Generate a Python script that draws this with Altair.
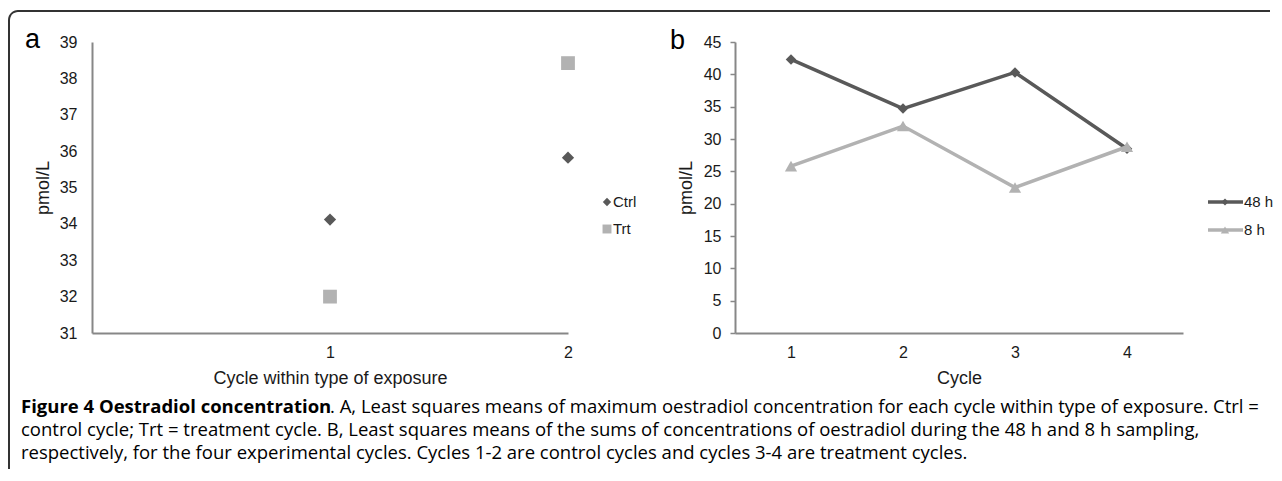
import altair as alt
import pandas as pd

# ---------------- data ----------------
cycle_a = [1, 2]
series_a = ["Ctrl", "Trt"]
ctrl_vals = [34.12, 35.82]
trt_vals = [32.0, 38.42]

cycle_b = [1, 2, 3, 4]
series_b = ["48 h", "8 h"]
h48_vals = [42.3, 34.7, 40.3, 28.5]
h8_vals = [25.8, 32.0, 22.5, 28.8]

yticks_a = [31, 32, 33, 34, 35, 36, 37, 38, 39]
yticks_b = [0, 5, 10, 15, 20, 25, 30, 35, 40, 45]
xticks_a = [1, 2]

caption_bold = "Figure 4 Oestradiol concentration"
caption_line1 = (". A, Least squares means of maximum oestradiol concentration for each cycle "
                 "within type of exposure. Ctrl =")
caption_rest = [
    "control cycle; Trt = treatment cycle. B, Least squares means of the sums of concentrations "
    "of oestradiol during the 48 h and 8 h sampling,",
    "respectively, for the four experimental cycles. Cycles 1-2 are control cycles and cycles 3-4 "
    "are treatment cycles.",
]

# ---------------- styles ----------------
DARK = "#595959"
LIGHT = "#b2b2b2"
AX = "#878787"
TXT = "#1a1a1a"
BORDER = "#333333"
FONT = "Liberation Sans"
CAPFONT = "Open Sans"
CAPSIZE = 18.5
WA, WB, H = 476, 448, 291
SP = 167


def one():
    return alt.Data(values=[{}])


def yaxis(vals, tick):
    return alt.Axis(
        values=vals, title="pmol/L", grid=False, ticks=tick, tickSize=5 if tick else 0,
        tickColor=AX, tickWidth=1.5, domainColor=AX, domainWidth=2,
        labelFont=FONT, labelFontSize=16, labelColor=TXT, labelPadding=9 if tick else 15,
        titleFont=FONT, titleFontSize=18, titleFontWeight="normal", titleColor=TXT,
        titleX=-49, titleY=H / 2, titleAngle=270, titleAlign="center", titleBaseline="middle",
        zindex=1,
    )


def xaxis(title, **kw):
    return alt.Axis(
        title=title, grid=False, ticks=False, tickSize=0, domainColor=AX, domainWidth=2,
        labelFont=FONT, labelFontSize=16, labelColor=TXT, labelBaseline="middle",
        labelPadding=19, labelAngle=0, labelFlush=False,
        titleFont=FONT, titleFontSize=18, titleFontWeight="normal", titleColor=TXT,
        titleY=45, titleBaseline="middle", zindex=1, **kw,
    )


# ---------------- panel a ----------------
xa = alt.X("cycle:Q", scale=alt.Scale(domain=[0, 2], nice=False, zero=False),
           axis=xaxis("Cycle within type of exposure", values=xticks_a, format="d"))
ya = alt.Y("value:Q", scale=alt.Scale(domain=[31, 39], nice=False, zero=False),
           axis=yaxis(yticks_a, False))

layers_a = [
    alt.Chart(one()).mark_rect(color=BORDER, cornerRadiusTopLeft=10).encode(
        x=alt.value(-84), x2=alt.value(1178), y=alt.value(-32), y2=alt.value(427)),
    alt.Chart(one()).mark_rect(color="white", cornerRadiusTopLeft=8).encode(
        x=alt.value(-82), x2=alt.value(1182), y=alt.value(-30), y2=alt.value(431)),
    alt.Chart(alt.Data(values=[{"t": "a"}])).mark_text(
        align="left", baseline="alphabetic", font=FONT, fontSize=27, color="black").encode(
        x=alt.value(-67), y=alt.value(6), text="t:N"),
]

shapes_a = ["diamond", "square"]
colors_a = [DARK, LIGHT]
sizes_a = [150, 190]
leg_sizes_a = [70, 80]
for i, (name, vals) in enumerate(zip(series_a, [ctrl_vals, trt_vals])):
    df = pd.DataFrame({"cycle": cycle_a, "value": vals, "series": name})
    layers_a.append(
        alt.Chart(df).mark_point(shape=shapes_a[i], filled=True, opacity=1,
                                 size=sizes_a[i], color=colors_a[i]).encode(x=xa, y=ya))
    yy = 160 + 27 * i
    layers_a.append(
        alt.Chart(alt.Data(values=[{"s": name}])).mark_point(
            shape=shapes_a[i], filled=True, opacity=1, size=leg_sizes_a[i], color=colors_a[i]
        ).encode(x=alt.value(515), y=alt.value(yy)))
    layers_a.append(
        alt.Chart(alt.Data(values=[{"s": name}])).mark_text(
            align="left", baseline="middle", font=FONT, fontSize=15, color=TXT
        ).encode(x=alt.value(521), y=alt.value(yy), text="s:N"))

# caption
layers_a.append(
    alt.Chart(alt.Data(values=[{"t": caption_bold}])).mark_text(
        align="left", baseline="middle", font=CAPFONT, fontSize=CAPSIZE, fontWeight="bold",
        color="black").encode(x=alt.value(-71), y=alt.value(365), text="t:N"))
layers_a.append(
    alt.Chart(alt.Data(values=[{"t": caption_line1}])).mark_text(
        align="left", baseline="middle", font=CAPFONT, fontSize=CAPSIZE, color="black").encode(
        x=alt.value(238), y=alt.value(365), text="t:N"))
for j, line in enumerate(caption_rest):
    layers_a.append(
        alt.Chart(alt.Data(values=[{"t": line}])).mark_text(
            align="left", baseline="middle", font=CAPFONT, fontSize=CAPSIZE, color="black").encode(
            x=alt.value(-71), y=alt.value(388 + 23 * j), text="t:N"))

panel_a = alt.layer(*layers_a).properties(width=WA, height=H)

# ---------------- panel b ----------------
xb = alt.X("cycle:O", scale=alt.Scale(domain=cycle_b, padding=0.5), axis=xaxis("Cycle"))
yb = alt.Y("value:Q", scale=alt.Scale(domain=[0, 45], nice=False, zero=False),
           axis=yaxis(yticks_b, True))

layers_b = [
    alt.Chart(alt.Data(values=[{"t": "b"}])).mark_text(
        align="left", baseline="alphabetic", font=FONT, fontSize=27, color="black").encode(
        x=alt.value(-65), y=alt.value(7), text="t:N"),
]
shapes_b = ["diamond", "triangle-up"]
colors_b = [DARK, LIGHT]
sizes_b = [110, 150]
leg_sizes_b = [50, 70]
for i, (name, vals) in enumerate(zip(series_b, [h48_vals, h8_vals])):
    df = pd.DataFrame({"cycle": cycle_b, "value": vals, "series": name})
    base = alt.Chart(df).encode(x=xb, y=yb)
    layers_b.append(base.mark_line(color=colors_b[i], strokeWidth=3.5))
    layers_b.append(base.mark_point(shape=shapes_b[i], filled=True, opacity=1,
                                    size=sizes_b[i], color=colors_b[i]))
    yy = 160 + 28 * i
    leg = alt.Chart(alt.Data(values=[{"s": name}]))
    layers_b.append(leg.mark_rule(color=colors_b[i], strokeWidth=3.5).encode(
        x=alt.value(473), x2=alt.value(508), y=alt.value(yy)))
    layers_b.append(leg.mark_point(shape=shapes_b[i], filled=True, opacity=1,
                                   size=leg_sizes_b[i], color=colors_b[i]).encode(
        x=alt.value(490), y=alt.value(yy)))
    layers_b.append(leg.mark_text(align="left", baseline="middle", font=FONT, fontSize=15,
                                  color=TXT).encode(x=alt.value(509), y=alt.value(yy),
                                                    text="s:N"))

panel_b = alt.layer(*layers_b).properties(width=WB, height=H)

chart = (
    alt.hconcat(panel_a, panel_b, spacing=SP, bounds="flush")
    .properties(padding={"left": 0, "top": 2, "right": 0, "bottom": 0})
    .configure(font=FONT)
    .configure_view(stroke=None)
)

chart.save("out.html", embed_options={"renderer": "svg", "actions": False})
